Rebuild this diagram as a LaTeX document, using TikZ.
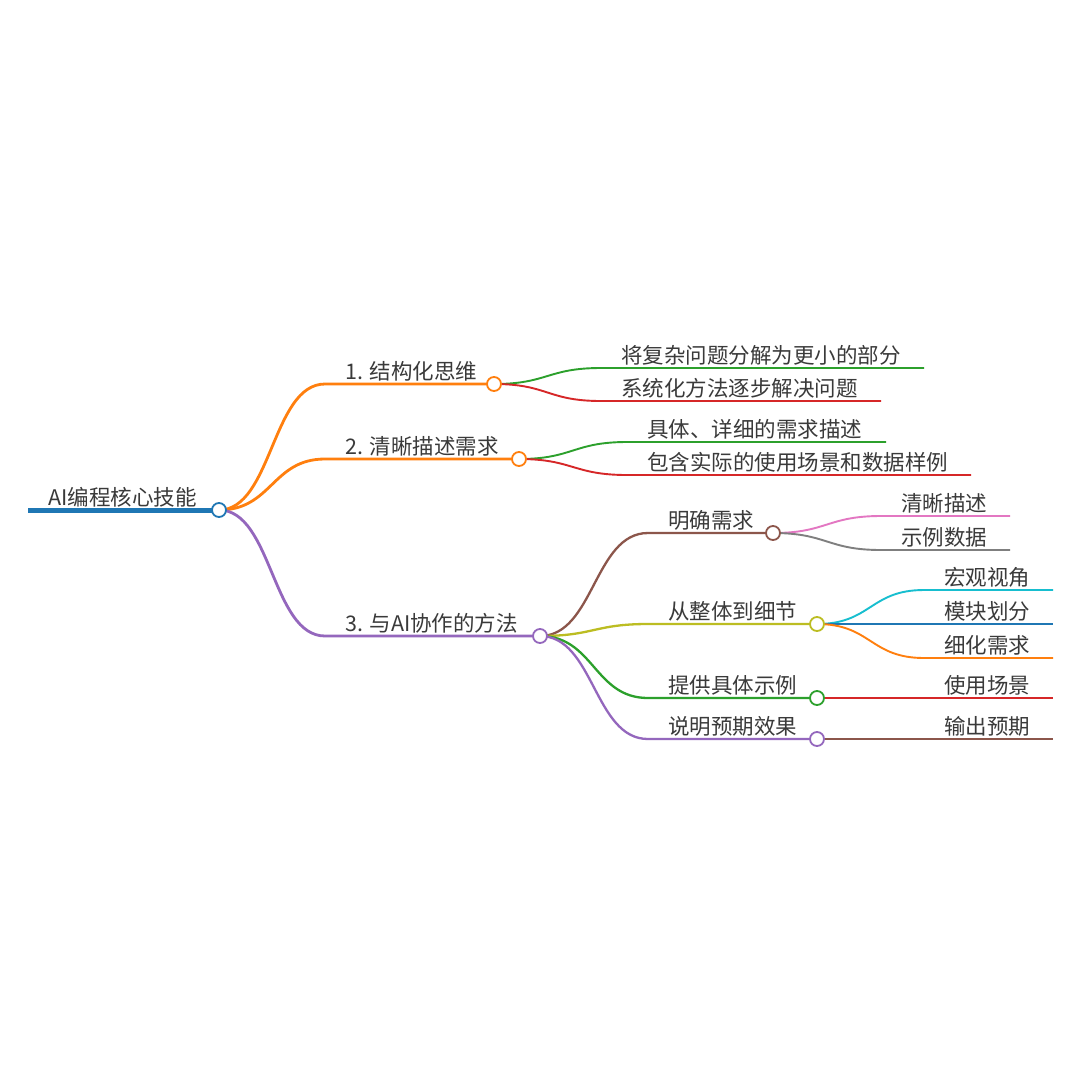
\documentclass[tikz,border=0pt]{standalone}
\usepackage{fontspec}
\setmainfont{Noto Sans CJK SC}
\usetikzlibrary{backgrounds}
\definecolor{mmblue}{HTML}{1F77B4}
\definecolor{mmorange}{HTML}{FF7F0E}
\definecolor{mmgreen}{HTML}{2CA02C}
\definecolor{mmred}{HTML}{D62728}
\definecolor{mmpurple}{HTML}{9467BD}
\definecolor{mmbrown}{HTML}{8C564B}
\definecolor{mmpink}{HTML}{E377C2}
\definecolor{mmgray}{HTML}{7F7F7F}
\definecolor{mmolive}{HTML}{BCBD22}
\definecolor{mmcyan}{HTML}{17BECF}
\definecolor{mmtext}{HTML}{3A3A3A}
\tikzset{
  dot/.style={circle,draw,fill=white,line width=1.8pt,minimum size=14pt,inner sep=0pt},
  lbl/.style={anchor=base west,inner sep=0pt,text=mmtext,font=\fontsize{21.5}{24}\selectfont},
  lvlone/.style={line width=2.8pt},
  lvltwo/.style={line width=2.3pt},
  lvlthree/.style={line width=1.9pt}
}

\begin{document}
\begin{tikzpicture}[x=1pt,y=-1pt]
                    \begin{scope}[on background layer]
                    \fill[white] (0,0) rectangle (1080,1080);
                    \end{scope}
                    % root
                    \coordinate (rootstart) at (28,510);
                    \node[dot,draw=mmblue] (root) at (219,510) {};
                    \node[lbl] (troot) at (48,505) {AI编程核心技能};
                    \begin{scope}[on background layer]
                    \draw[line width=5pt,mmblue] (rootstart) -- (root.center);
                    \end{scope}
                    % main branches
                    \foreach \n/\y/\e/\c/\t in {b1/384/494/mmorange/1. 结构化思维,b2/459/519/mmorange/2. 清晰描述需求,b3/636/540/mmpurple/3. 与AI协作的方法}{
                    \coordinate (j\n) at (325,\y);
                    \node[dot,draw=\c] (\n) at (\e,\y) {};
                    \node[lbl] (t\n) at (345,\y-4.5) {\t};
                    \begin{scope}[on background layer]
                    \draw[lvlone,\c] (root.center) .. controls +(53,0) and +(-53,0) .. (j\n) -- (\n.center);
                    \end{scope}
                    }
                    % methods
                    \foreach \n/\y/\e/\c/\t in {m1/533/773/mmbrown/明确需求,m2/624/817/mmolive/从整体到细节,m3/698/817/mmgreen/提供具体示例,m4/739/817/mmpurple/说明预期效果}{
                    \coordinate (j\n) at (648,\y);
                    \node[dot,draw=\c] (\n) at (\e,\y) {};
                    \node[lbl] (t\n) at (668,\y-4.5) {\t};
                    \begin{scope}[on background layer]
                    \draw[lvltwo,\c] (b3.center) .. controls +(54,0) and +(-54,0) .. (j\n) -- (\n.center);
                    \end{scope}
                    }
                    % leaves
                    \foreach \p/\x/\y/\e/\c/\t [count=\i] in {b1/601/368/924/mmgreen/将复杂问题分解为更小的部分,b1/601/401/881/mmred/系统化方法逐步解决问题,b2/627/442/886/mmgreen/具体、详细的需求描述,b2/627/475/971/mmred/包含实际的使用场景和数据样例,m1/881/516/1010/mmpink/清晰描述,m1/881/550/1010/mmgray/示例数据,m2/924/590/1053/mmcyan/宏观视角,m2/924/624/1053/mmblue/模块划分,m2/924/658/1053/mmorange/细化需求,m3/924/698/1053/mmred/使用场景,m4/924/739/1053/mmbrown/输出预期}{
                    \coordinate (jleaf\i) at (\x,\y);
                    \coordinate (leaf\i) at (\e,\y);
                    \node[lbl] (tleaf\i) at (\x+20,\y-4.5) {\t};
                    \begin{scope}[on background layer]
                    \draw[lvlthree,\c] (\p.center) .. controls +(54,0) and +(-54,0) .. (jleaf\i) -- (leaf\i);
                    \end{scope}
                    }
                \end{tikzpicture}
\end{document}
